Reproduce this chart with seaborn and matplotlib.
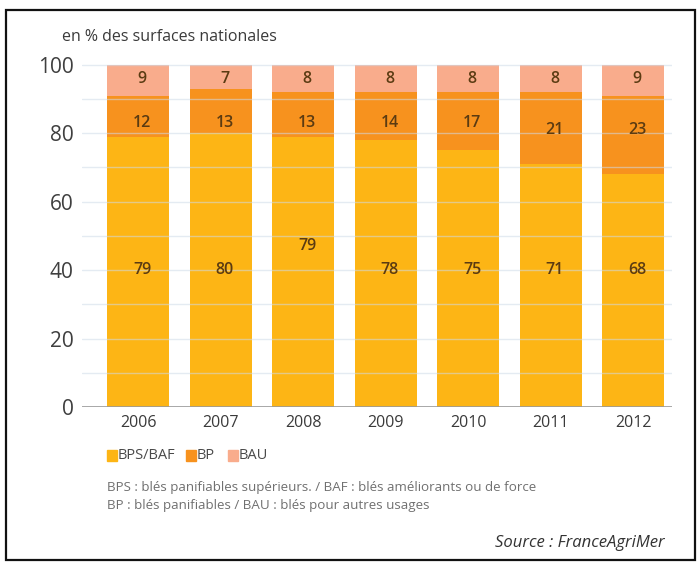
import matplotlib
matplotlib.use("Agg")
import matplotlib.pyplot as plt
from matplotlib.patches import Rectangle
import seaborn as sns
import pandas as pd

# Wheat surface shares by quality class (% of national surfaces)
years = ["2006", "2007", "2008", "2009", "2010", "2011", "2012"]
bps_baf = [79, 80, 79, 78, 75, 71, 68]
bp = [12, 13, 13, 14, 17, 21, 23]
bau = [9, 7, 8, 8, 8, 8, 9]

series_names = ["BPS/BAF", "BP", "BAU"]
colors = ["#FDB515", "#F7921E", "#F9AC8C"]
y_ticks = [0, 20, 40, 60, 80, 100]

df = pd.DataFrame({"year": years, "BPS/BAF": bps_baf, "BP": bp, "BAU": bau})

sns.set_theme(style="white")
plt.rcParams["font.family"] = ["Open Sans", "DejaVu Sans"]

W, H = 699, 562
fig = plt.figure(figsize=(W / 100, H / 100), dpi=100)
fig.patch.set_facecolor("white")

# axes placement in pixels
ax_left, ax_right, ax_bottom, ax_top = 82, 672, 407, 58
ax = fig.add_axes([ax_left / W, 1 - ax_bottom / H,
                   (ax_right - ax_left) / W, (ax_bottom - ax_top) / H])
ax.set_facecolor("none")

bottoms = [0] * len(years)
for name, color in zip(series_names, colors):
    sns.barplot(data=df, x="year", y=name, order=years, color=color,
                width=0.75, bottom=bottoms, ax=ax, saturation=1,
                edgecolor="none", linewidth=0, zorder=2)
    bottoms = [b + v for b, v in zip(bottoms, df[name])]

ax.set_xlim(-0.68, 6.47)
ax.set_ylim(0, 102)

# faint horizontal rules every 10 units, visible across the bars
for yv in range(10, 101, 10):
    ax.axhline(yv, color="#cfdbe8", lw=1.0, alpha=0.55, zorder=3)
ax.axhline(0, color="#9a9a9a", lw=1.2, zorder=4)

for s in ax.spines.values():
    s.set_visible(False)
ax.set_xlabel("")
ax.set_ylabel("")
ax.set_yticks(y_ticks)
ax.set_yticklabels([str(t) for t in y_ticks])
ax.tick_params(axis="y", length=0, pad=6, labelsize=15, labelcolor="#3f3f3f")
ax.tick_params(axis="x", length=0, pad=6, labelsize=11.5, labelcolor="#3a3a3a")

# value labels inside segments
label_color = "#5b3b12"
for i, yr in enumerate(years):
    a, b, c = bps_baf[i], bp[i], bau[i]
    y_low = 47 if yr == "2008" else 40
    y_mid = 83 if b < 20 else 81
    ax.text(i + 0.05, y_low, str(a), ha="center", va="center",
            fontsize=11.5, fontweight="semibold", color=label_color, zorder=5)
    ax.text(i + 0.05, y_mid, str(b), ha="center", va="center",
            fontsize=11.5, fontweight="semibold", color=label_color, zorder=5)
    ax.text(i + 0.05, 96, str(c), ha="center", va="center",
            fontsize=11.5, fontweight="semibold", color=label_color, zorder=5)

# unit note
fig.text(62 / W, 1 - 37 / H, "en % des surfaces nationales", fontsize=11.5,
         color="#3a3a3a", va="center", ha="left")

# legend row
lx = [107, 186, 228]
for x0, name, color in zip(lx, series_names, colors):
    fig.patches.append(Rectangle((x0 / W, 1 - 461 / H), 10 / W, 11 / H,
                                 transform=fig.transFigure, color=color))
    fig.text((x0 + 11) / W, 1 - 455.5 / H, name, fontsize=10.5,
             color="#4a4a4a", va="center", ha="left")

# footnotes
fig.text(107 / W, 1 - 488 / H,
         "BPS : blés panifiables supérieurs. / BAF : blés améliorants ou de force",
         fontsize=9.6, color="#707070", va="center", ha="left")
fig.text(107 / W, 1 - 505 / H,
         "BP : blés panifiables / BAU : blés pour autres usages",
         fontsize=9.6, color="#707070", va="center", ha="left")
fig.text(665 / W, 1 - 543 / H, "Source : FranceAgriMer", fontsize=12,
         style="italic", color="#333333", va="center", ha="right")

# outer frame
fig.patches.append(Rectangle((5.5 / W, 1 - 560 / H), 689 / W, 550 / H,
                             transform=fig.transFigure, fill=False,
                             edgecolor="#111111", lw=1.6))

fig.savefig("out.png", dpi=100, facecolor="white")
